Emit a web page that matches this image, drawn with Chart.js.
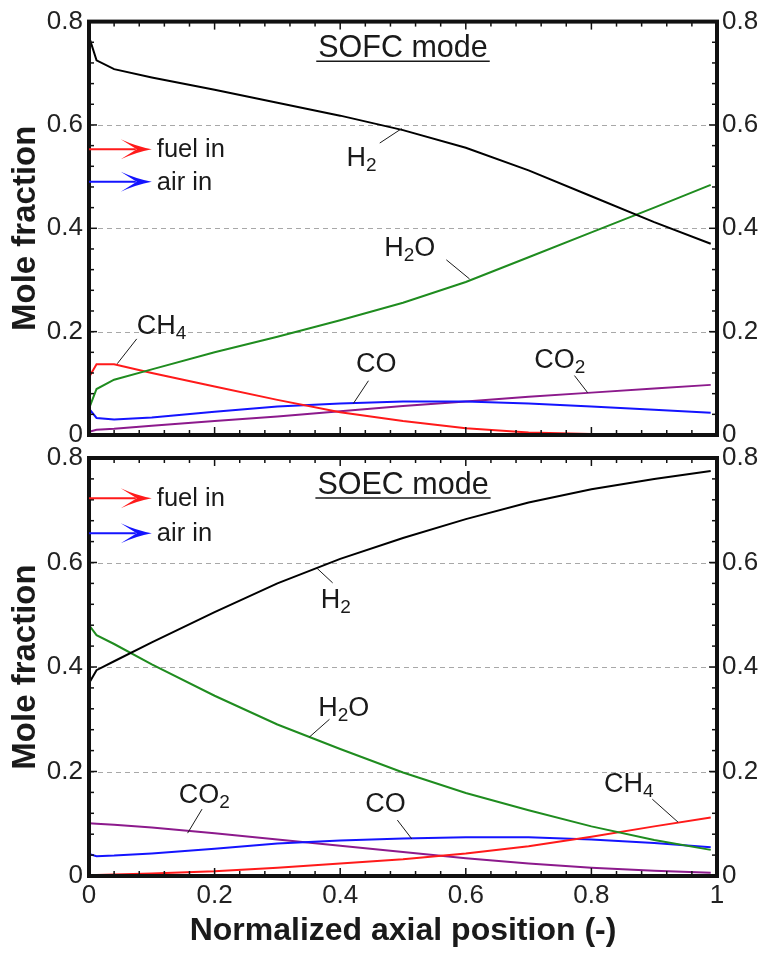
<!DOCTYPE html>
<html>
<head>
<meta charset="utf-8">
<script src="https://cdn.jsdelivr.net/npm/chart.js@4.4.1/dist/chart.umd.min.js"></script>
<style>
  body { margin: 0; background: #fff; }
  #wrap { position: relative; width: 763px; height: 953px; }
  canvas { position: absolute; left: 0; }
</style>
</head>
<body>
<div id="wrap">
  <canvas id="sofc" width="763" height="460" style="top:0"></canvas>
  <canvas id="soec" width="763" height="523" style="top:430px"></canvas>
</div>
<script>
// axial positions (normalized) where values were read
const xPos = [0, 0.012, 0.04, 0.1, 0.2, 0.3, 0.4, 0.5, 0.6, 0.7, 0.8, 0.9, 0.99];

// SOFC mode (top)
const h2Sofc  = [0.771, 0.725, 0.708, 0.692, 0.668, 0.643, 0.618, 0.590, 0.556, 0.512, 0.462, 0.412, 0.370];
const h2oSofc = [0.051, 0.089, 0.107, 0.127, 0.160, 0.190, 0.222, 0.256, 0.296, 0.344, 0.392, 0.440, 0.484];
const ch4Sofc = [0.112, 0.137, 0.137, 0.120, 0.094, 0.068, 0.044, 0.027, 0.013, 0.005, 0.002, 0.001, 0.001];
const coSofc  = [0.051, 0.033, 0.030, 0.034, 0.045, 0.055, 0.061, 0.065, 0.065, 0.061, 0.055, 0.049, 0.043];
const co2Sofc = [0.006, 0.010, 0.012, 0.018, 0.027, 0.036, 0.046, 0.056, 0.065, 0.074, 0.082, 0.090, 0.097];

// SOEC mode (bottom)
const h2Soec  = [0.369, 0.394, 0.411, 0.447, 0.505, 0.560, 0.607, 0.647, 0.683, 0.715, 0.740, 0.760, 0.775];
const h2oSoec = [0.480, 0.461, 0.444, 0.405, 0.345, 0.290, 0.243, 0.198, 0.159, 0.126, 0.095, 0.069, 0.050];
const ch4Soec = [0.001, 0.002, 0.003, 0.005, 0.009, 0.016, 0.024, 0.032, 0.043, 0.057, 0.075, 0.095, 0.112];
const coSoec  = [0.042, 0.038, 0.039, 0.043, 0.052, 0.062, 0.068, 0.072, 0.074, 0.074, 0.070, 0.063, 0.055];
const co2Soec = [0.101, 0.100, 0.098, 0.093, 0.082, 0.070, 0.058, 0.046, 0.034, 0.024, 0.016, 0.010, 0.006];

const xTicks = [0, 0.2, 0.4, 0.6, 0.8, 1];
const yTicks = [0, 0.2, 0.4, 0.6, 0.8];
const yGrid = [0.2, 0.4, 0.6];

const FONT = "Arial, 'Liberation Sans', sans-serif";
const INK = '#1a1a1a';

// label placement, in data units: text at (x,y), leader from (x1,y1) to (x2,y2)
const sofcNotes = [
  {t: 'H2',  x: 0.410, y: 0.521, x1: 0.463, y1: 0.565, x2: 0.498, y2: 0.593},
  {t: 'H2O', x: 0.470, y: 0.346, x1: 0.569, y1: 0.339, x2: 0.606, y2: 0.302},
  {t: 'CH4', x: 0.076, y: 0.195, x1: 0.076, y1: 0.186, x2: 0.045, y2: 0.138},
  {t: 'CO',  x: 0.425, y: 0.121, x1: 0.445, y1: 0.105, x2: 0.421, y2: 0.061},
  {t: 'CO2', x: 0.709, y: 0.130, x1: 0.773, y1: 0.115, x2: 0.794, y2: 0.082}
];
const soecNotes = [
  {t: 'H2',  x: 0.369, y: 0.513, x1: 0.363, y1: 0.589, x2: 0.388, y2: 0.561},
  {t: 'H2O', x: 0.365, y: 0.306, x1: 0.383, y1: 0.300, x2: 0.351, y2: 0.266},
  {t: 'CO2', x: 0.143, y: 0.140, x1: 0.180, y1: 0.128, x2: 0.157, y2: 0.082},
  {t: 'CO',  x: 0.440, y: 0.122, x1: 0.491, y1: 0.107, x2: 0.514, y2: 0.071},
  {t: 'CH4', x: 0.820, y: 0.161, x1: 0.897, y1: 0.147, x2: 0.938, y2: 0.103}
];

function series(vals) {
  return xPos.map((x, i) => ({x: x, y: vals[i]}));
}

function makeDatasets(h2, h2o, ch4, co, co2) {
  return [
    {data: series(h2), borderColor: '#000000'},
    {data: series(h2o), borderColor: '#1f8c1f'},
    {data: series(ch4), borderColor: '#ff1a1a'},
    {data: series(co), borderColor: '#1414ff'},
    {data: series(co2), borderColor: '#8c1a8c'}
  ].map(d => Object.assign(d, {borderWidth: 2, pointRadius: 0, tension: 0, fill: false}));
}

function drawRich(ctx, str, x, y) {
  let cx = x;
  ctx.textBaseline = 'alphabetic';
  ctx.textAlign = 'left';
  for (const ch of str) {
    const sub = /[0-9]/.test(ch);
    ctx.font = (sub ? 19 : 27) + 'px ' + FONT;
    ctx.fillText(ch, cx, sub ? y + 5 : y);
    cx += ctx.measureText(ch).width;
  }
}

function arrow(ctx, x0, x1, y, color) {
  ctx.strokeStyle = color;
  ctx.fillStyle = color;
  ctx.lineWidth = 2;
  ctx.beginPath();
  ctx.moveTo(x0, y);
  ctx.lineTo(x1 - 16, y);
  ctx.stroke();
  ctx.beginPath();
  ctx.moveTo(x1, y);
  ctx.quadraticCurveTo(x1 - 16, y - 3, x1 - 31, y - 10);
  ctx.quadraticCurveTo(x1 - 20, y - 3, x1 - 15, y);
  ctx.quadraticCurveTo(x1 - 20, y + 3, x1 - 31, y + 10);
  ctx.quadraticCurveTo(x1 - 16, y + 3, x1, y);
  ctx.fill();
}

function decor(title, notes, fuelY, airY) {
  return {
    id: 'decor',
    beforeDatasetsDraw(chart) {
      const ctx = chart.ctx, a = chart.chartArea, ys = chart.scales.y;
      ctx.save();
      ctx.strokeStyle = '#a8a8a8';
      ctx.lineWidth = 1;
      ctx.setLineDash([5, 4]);
      yGrid.forEach(v => {
        const py = Math.round(ys.getPixelForValue(v)) + 0.5;
        ctx.beginPath();
        ctx.moveTo(a.left, py);
        ctx.lineTo(a.right, py);
        ctx.stroke();
      });
      ctx.restore();
    },
    afterDatasetsDraw(chart) {
      const ctx = chart.ctx, a = chart.chartArea;
      const xs = chart.scales.x, ys = chart.scales.y;
      ctx.save();
      // inward ticks
      ctx.strokeStyle = '#111';
      ctx.lineWidth = 1.5;
      const seg = (x1, y1, x2, y2) => { ctx.beginPath(); ctx.moveTo(x1, y1); ctx.lineTo(x2, y2); ctx.stroke(); };
      for (let i = 0; i <= 25; i++) {
        const px = xs.getPixelForValue(i * 0.04);
        const len = i % 5 === 0 ? 8 : 5;
        seg(px, a.bottom, px, a.bottom - len);
        seg(px, a.top, px, a.top + len);
      }
      for (let i = 0; i <= 20; i++) {
        const py = ys.getPixelForValue(i * 0.04);
        const len = i % 5 === 0 ? 8 : 5;
        seg(a.left, py, a.left + len, py);
        seg(a.right, py, a.right - len, py);
      }
      // frame
      ctx.lineWidth = 4;
      ctx.strokeRect(a.left, a.top, a.right - a.left, a.bottom - a.top);

      // species labels with leaders
      ctx.fillStyle = INK;
      ctx.strokeStyle = INK;
      ctx.lineWidth = 1;
      notes.forEach(n => {
        drawRich(ctx, n.t, xs.getPixelForValue(n.x), ys.getPixelForValue(n.y));
        seg(xs.getPixelForValue(n.x1), ys.getPixelForValue(n.y1), xs.getPixelForValue(n.x2), ys.getPixelForValue(n.y2));
      });

      // inlet arrows
      const tip = xs.getPixelForValue(0.1);
      [[fuelY, '#ff1a1a', 'fuel in'], [airY, '#1414ff', 'air in']].forEach(([v, c, txt]) => {
        const py = ys.getPixelForValue(v);
        arrow(ctx, a.left, tip, py, c);
        ctx.fillStyle = INK;
        ctx.font = '25.5px ' + FONT;
        ctx.textAlign = 'left';
        ctx.textBaseline = 'middle';
        ctx.fillText(txt, tip + 5, py + 1);
      });

      // panel title, underlined
      ctx.font = '30.5px ' + FONT;
      ctx.textAlign = 'center';
      ctx.textBaseline = 'alphabetic';
      ctx.fillStyle = INK;
      ctx.strokeStyle = INK;
      const tx = xs.getPixelForValue(0.5), ty = ys.getPixelForValue(0.731);
      ctx.fillText(title, tx, ty);
      const w = ctx.measureText(title).width;
      ctx.lineWidth = 1.5;
      seg(tx - w / 2 - 2, ty + 4, tx + w / 2 + 2, ty + 4);
      ctx.restore();
    }
  };
}

function makeOptions(showX, padTop, xHeight) {
  const tickFont = {family: FONT, size: 26};
  const fmt = v => String(+v.toFixed(1));
  return {
    responsive: false,
    animation: false,
    devicePixelRatio: 1,
    layout: {padding: {top: padTop, left: 0, right: 0, bottom: 0}},
    plugins: {legend: {display: false}, tooltip: {enabled: false}},
    scales: {
      x: {
        type: 'linear', min: 0, max: 1, position: 'bottom',
        afterBuildTicks: s => { s.ticks = xTicks.map(v => ({value: v})); },
        afterFit: s => { s.height = xHeight; },
        grid: {display: false, drawTicks: false},
        border: {display: false},
        ticks: {display: showX, font: tickFont, color: '#222', padding: 4, maxRotation: 0, callback: fmt},
        title: {display: showX, text: 'Normalized axial position (-)', color: INK,
                font: {family: FONT, size: 32, weight: 'bold'}, padding: {top: 0, bottom: 3}}
      },
      y: {
        type: 'linear', min: 0, max: 0.8, position: 'left',
        afterBuildTicks: s => { s.ticks = yTicks.map(v => ({value: v})); },
        afterFit: s => { s.width = 89; },
        grid: {display: false, drawTicks: false},
        border: {display: false},
        ticks: {font: tickFont, color: '#222', padding: 6, callback: fmt},
        title: {display: true, text: 'Mole fraction', color: INK,
                font: {family: FONT, size: 33, weight: 'bold'}, padding: {top: 6, bottom: 0}}
      },
      y2: {
        type: 'linear', min: 0, max: 0.8, position: 'right',
        afterBuildTicks: s => { s.ticks = yTicks.map(v => ({value: v})); },
        afterFit: s => { s.width = 46; },
        grid: {display: false, drawTicks: false},
        border: {display: false},
        ticks: {font: tickFont, color: '#222', padding: 5, callback: fmt}
      }
    }
  };
}

new Chart(document.getElementById('sofc'), {
  type: 'line',
  data: {datasets: makeDatasets(h2Sofc, h2oSofc, ch4Sofc, coSofc, co2Sofc)},
  options: makeOptions(false, 17, 25),
  plugins: [decor('SOFC mode', sofcNotes, 0.553, 0.490)]
});

new Chart(document.getElementById('soec'), {
  type: 'line',
  data: {datasets: makeDatasets(h2Soec, h2oSoec, ch4Soec, coSoec, co2Soec)},
  options: makeOptions(true, 28, 77),
  plugins: [decor('SOEC mode', soecNotes, 0.723, 0.656)]
});
</script>
</body>
</html>
